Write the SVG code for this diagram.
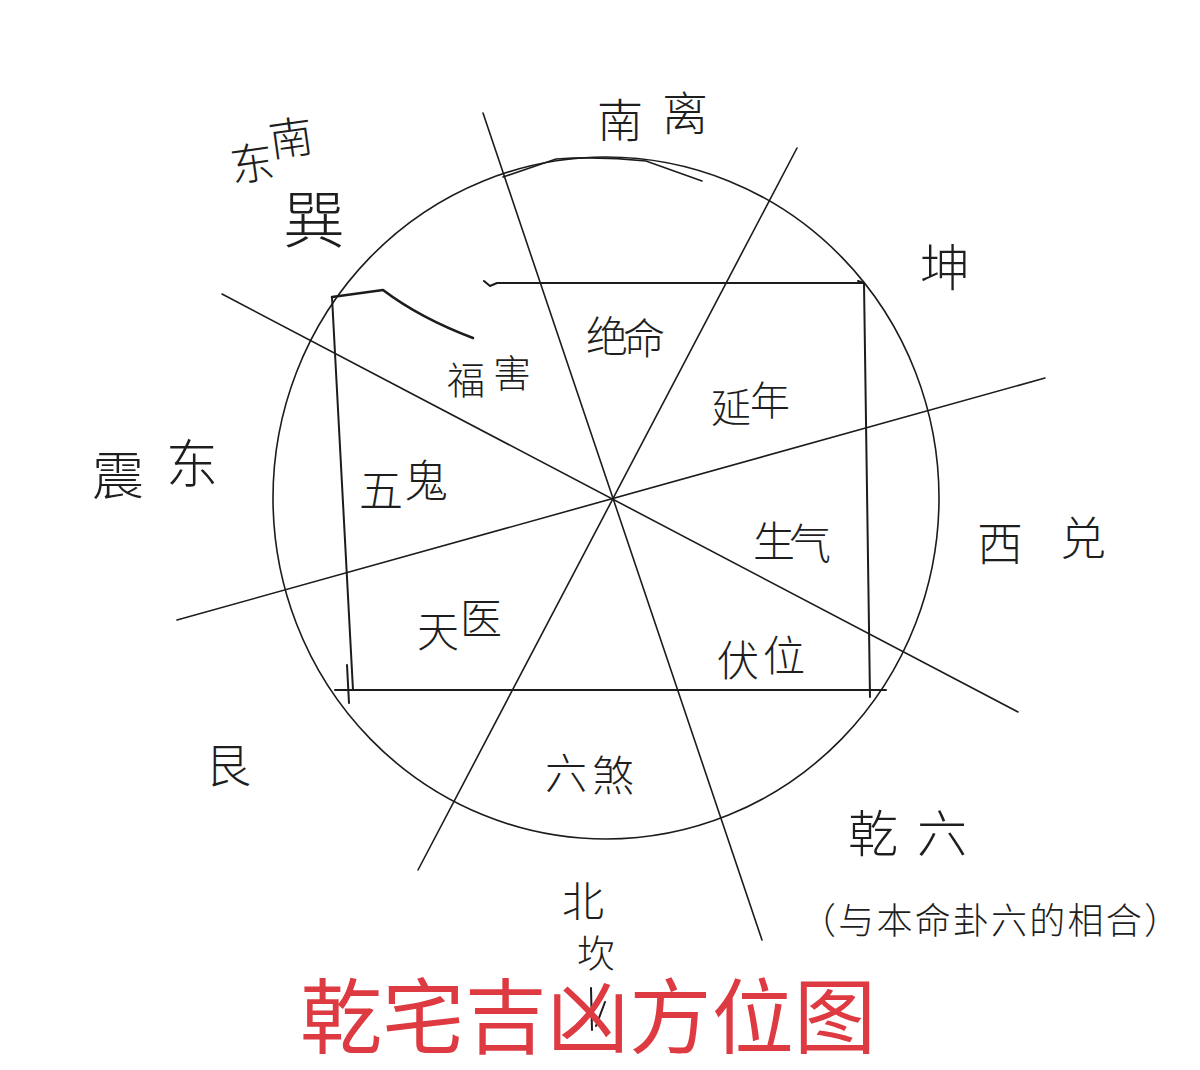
<svg xmlns="http://www.w3.org/2000/svg" width="1200" height="1070" viewBox="0 0 1200 1070">
<style>
.ln{stroke:#1c1c1c;stroke-width:2;fill:none;stroke-linecap:round;stroke-linejoin:round}
.thin{stroke:#1c1c1c;stroke-width:1.6;fill:none;stroke-linecap:round}
.hw{font-family:"Noto Sans CJK SC","Noto Sans CJK JP",sans-serif;fill:#1e1e1e;font-weight:300;text-anchor:middle;dominant-baseline:central}
.title{font-family:"Noto Sans CJK SC","Noto Sans CJK JP",sans-serif;fill:#de3a42;font-size:82px;text-anchor:middle}
</style>
<rect width="1200" height="1070" fill="#ffffff"/>
<g id="connectors">
<ellipse class="thin" cx="606" cy="498" rx="333" ry="341"/>
<path class="thin" d="M503,177 L556,159 Q600,156 646,161 L702,181"/>
<line class="thin" x1="483" y1="113" x2="762" y2="940"/>
<line class="thin" x1="797" y1="148" x2="418" y2="870"/>
<line class="thin" x1="222" y1="294" x2="1018" y2="712"/>
<line class="thin" x1="177" y1="620" x2="1045" y2="378"/>
<path class="ln" d="M484,281 L490,286 L497,283 L863,283"/>
<path class="ln" d="M858,281 L864,283 L870,697"/>
<line class="ln" x1="335" y1="690" x2="886" y2="690"/>
<path class="ln" d="M332,297 L353,690"/>
<line class="ln" x1="347" y1="665" x2="349" y2="703"/>
<path class="ln" d="M332,297 L383,290 Q420,318 473,338" style="stroke-width:2.6"/>
<path class="ln" d="M591,988 L592,1030 M605,1002 L596,1026"/>
</g>
<g id="node-southeast"><text class="hw" font-size="44" x="250 292" y="158 138" transform="rotate(-8 270 148)">东南</text><text class="hw" font-size="62" x="314" y="216">巽</text></g>
<g id="node-south"><text class="hw" font-size="46" x="620 685" y="117 110">南离</text></g>
<g id="node-southwest"><text class="hw" font-size="50" x="945" y="264">坤</text></g>
<g id="node-west"><text class="hw" font-size="46" x="1000 1083" y="540 535">西兑</text></g>
<g id="node-northwest"><text class="hw" font-size="50" x="873 942" y="830 830">乾六</text><text class="hw" font-size="36" x="990" y="918" textLength="380" lengthAdjust="spacing">（与本命卦六的相合）</text></g>
<g id="node-north"><text class="hw" font-size="42" x="583" y="898">北</text><text class="hw" font-size="38" x="596" y="950">坎</text></g>
<g id="node-northeast"><text class="hw" font-size="46" x="228" y="762">艮</text></g>
<g id="node-east"><text class="hw" font-size="52" x="118 192" y="472 460">震东</text></g>
<g id="node-jueming"><text class="hw" font-size="42" x="607 644" y="333 335">绝命</text></g>
<g id="node-yannian"><text class="hw" font-size="40" x="731 770" y="405 398">延年</text></g>
<g id="node-fuhai"><text class="hw" font-size="38" x="466 512" y="377 370">福害</text></g>
<g id="node-wugui"><text class="hw" font-size="44" x="381 426" y="488 478">五鬼</text></g>
<g id="node-shengqi"><text class="hw" font-size="42" x="774 810" y="538 540">生气</text></g>
<g id="node-tianyi"><text class="hw" font-size="42" x="438 481" y="628 615">天医</text></g>
<g id="node-fuwei"><text class="hw" font-size="42" x="738 784" y="657 652">伏位</text></g>
<g id="node-liusha"><text class="hw" font-size="42" x="566 613" y="770 772">六煞</text></g>
<g id="title"><text class="title" x="588" y="1047" textLength="576" lengthAdjust="spacing">乾宅吉凶方位图</text></g>
</svg>
